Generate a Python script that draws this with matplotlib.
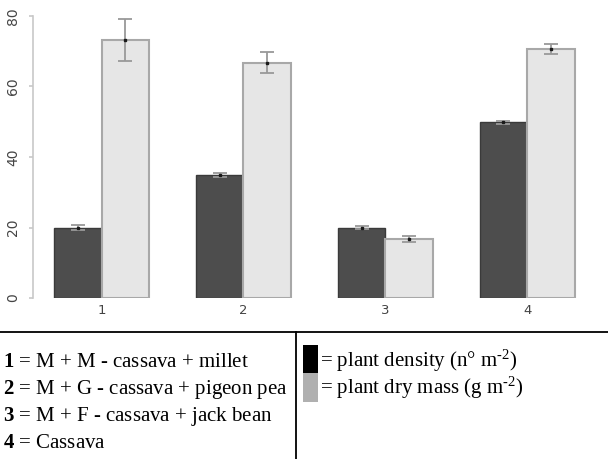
import matplotlib.pyplot as plt
from matplotlib.lines import Line2D
from matplotlib.patches import Rectangle
import numpy as np

# values
groups = ['1', '2', '3', '4']
density = [20.0, 35.0, 20.0, 49.8]
density_err = [0.8, 0.6, 0.3, 0.4]
dry_mass = [73.2, 66.8, 16.8, 70.6]
dry_mass_err = [6.0, 2.9, 0.9, 1.5]
y_ticks = [0, 20, 40, 60, 80]

legend_left = [('1', ' = M + M - cassava + millet'),
               ('2', ' = M + G - cassava + pigeon pea'),
               ('3', ' = M + F - cassava + jack bean'),
               ('4', ' = Cassava')]
legend_right = ['= plant density (n\u00b0 m$^{\\text{-2}}$)',
                '= plant dry mass (g m$^{\\text{-2}}$)']

plt.rcParams['mathtext.fontset'] = 'custom'
plt.rcParams['mathtext.rm'] = 'Liberation Serif'
plt.rcParams['mathtext.it'] = 'Liberation Serif:italic'
plt.rcParams['mathtext.bf'] = 'Liberation Serif:bold'

W, H = 608, 459
fig = plt.figure(figsize=(W / 100, H / 100), dpi=100)

def px(x0, y0, x1, y1):
    # pixel box (top-left origin) -> figure fraction rect
    return [x0 / W, 1 - y1 / H, (x1 - x0) / W, (y1 - y0) / H]

ax = fig.add_axes(px(33, 16, 590, 298))
x = np.arange(len(groups))
w = 0.335
ax.bar(x - w / 2, density, w, color='#4d4d4d', edgecolor='#3a3a3a', linewidth=1.0)
ax.bar(x + w / 2, dry_mass, w, color='#e6e6e6', edgecolor='#a8a8a8', linewidth=1.5)
ax.errorbar(x - w / 2, density, yerr=density_err, fmt='s', ms=2, color='#1a1a1a',
            ecolor='#999999', elinewidth=1.3, capsize=5, capthick=1.3, clip_on=False)
ax.errorbar(x + w / 2, dry_mass, yerr=dry_mass_err, fmt='s', ms=2, color='#1a1a1a',
            ecolor='#999999', elinewidth=1.3, capsize=5, capthick=1.3, clip_on=False)

ax.set_xlim(-0.483, 3.443)
ax.set_ylim(0, 80)
for s in ['top', 'right', 'bottom']:
    ax.spines[s].set_visible(False)
ax.spines['left'].set_bounds(0, 80)
ax.spines['left'].set_color('#c8c8c8')
ax.spines['left'].set_linewidth(1.2)
ax.set_yticks(y_ticks)
ax.set_yticklabels([str(t) for t in y_ticks], rotation=90, va='center',
                   fontsize=10, color='#444444')
ax.tick_params(axis='y', length=3, color='#c8c8c8', width=1.2, pad=6)
ax.set_xticks(x)
ax.set_xticklabels(groups, fontsize=9.5, color='#444444')
ax.tick_params(axis='x', length=0, pad=4)

# legend table below the chart
fig.add_artist(Line2D([0, 1], [1 - 332 / H] * 2, color='black', lw=1.3))
fig.add_artist(Line2D([296 / W] * 2, [1 - 332 / H, 0], color='black', lw=1.3))

fs = 15
baselines = [367, 394, 421, 448]
for (num, txt), yb in zip(legend_left, baselines):
    fig.text(3 / W, 1 - yb / H, '$\\mathbf{' + num + '}$' + txt,
             fontsize=fs, family='Liberation Serif', va='baseline', ha='left')

fig.add_artist(Rectangle((303 / W, 1 - 373 / H), 15 / W, 28 / H,
                         transform=fig.transFigure, color='black', lw=0))
fig.add_artist(Rectangle((303 / W, 1 - 402 / H), 15 / W, 29 / H,
                         transform=fig.transFigure, color='#b0b0b0', lw=0))
for txt, yb in zip(legend_right, baselines[:2]):
    fig.text(320 / W, 1 - yb / H, txt, fontsize=fs, family='Liberation Serif',
             va='baseline', ha='left')

fig.savefig('out.png', dpi=100)
